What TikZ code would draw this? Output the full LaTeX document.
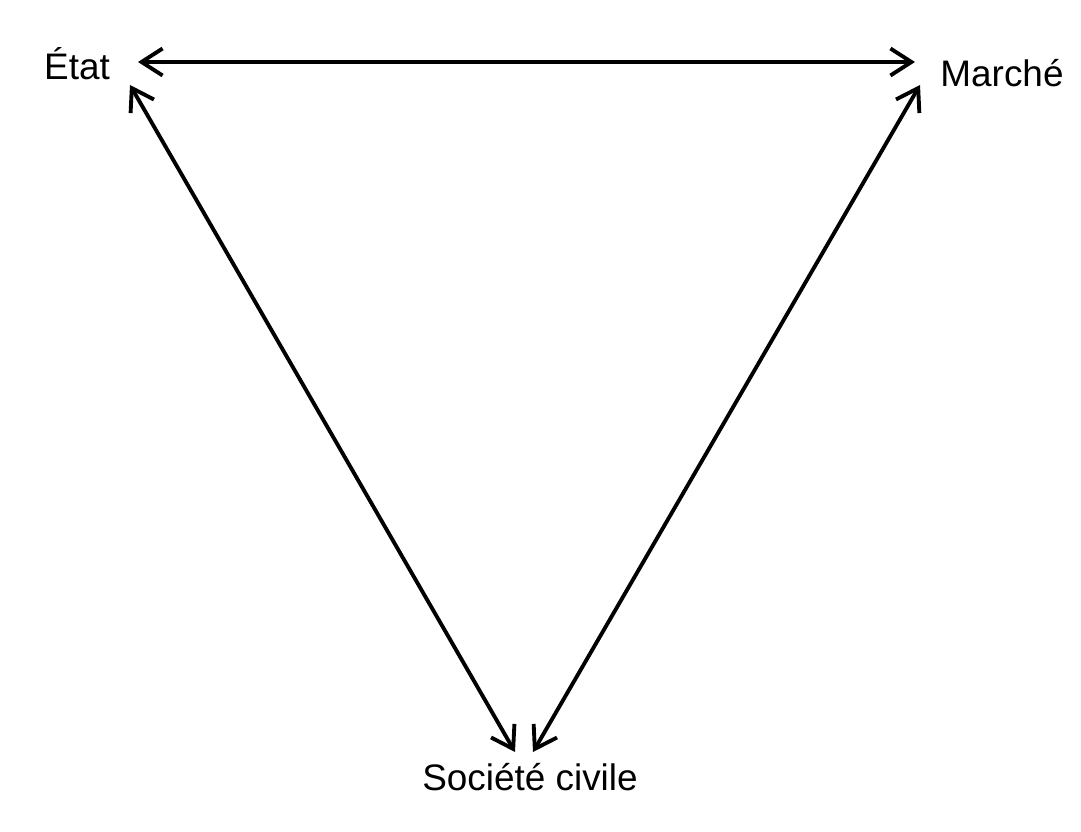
\documentclass[tikz,border=0pt]{standalone}
\usepackage{fontspec}
\setmainfont{Liberation Sans}
\usetikzlibrary{arrows.meta,positioning,calc}

\begin{document}
\begin{tikzpicture}[
        pole/.style={font=\fontsize{21}{25}\selectfont, inner sep=0pt, anchor=base},
        link/.style={line width=2.2pt, {Straight Barb[length=4.2mm,width=5.4mm]}-{Straight Barb[length=4.2mm,width=5.4mm]}}
      ]
        \useasboundingbox (0,0) rectangle (21.62,16.62);

        % the three poles
        \node[pole] (etat) at (1.54, 15.02) {État};
        \node[pole] (marche) at (20.04, 14.88) {Marché};
        \node[pole] (societe) at (10.6, 0.82) {Société civile};

        % links between them
        \draw[link] ([shift={(1.22,0.36)}]etat.base) -- ([shift={(-1.74,0.50)}]marche.base);
        \draw[link] ([shift={(1.06,-0.10)}]etat.base) -- ([shift={(-0.30,0.76)}]societe.base);
        \draw[link] ([shift={(-1.64,0.04)}]marche.base) -- ([shift={(0.06,0.76)}]societe.base);
      \end{tikzpicture}
\end{document}
